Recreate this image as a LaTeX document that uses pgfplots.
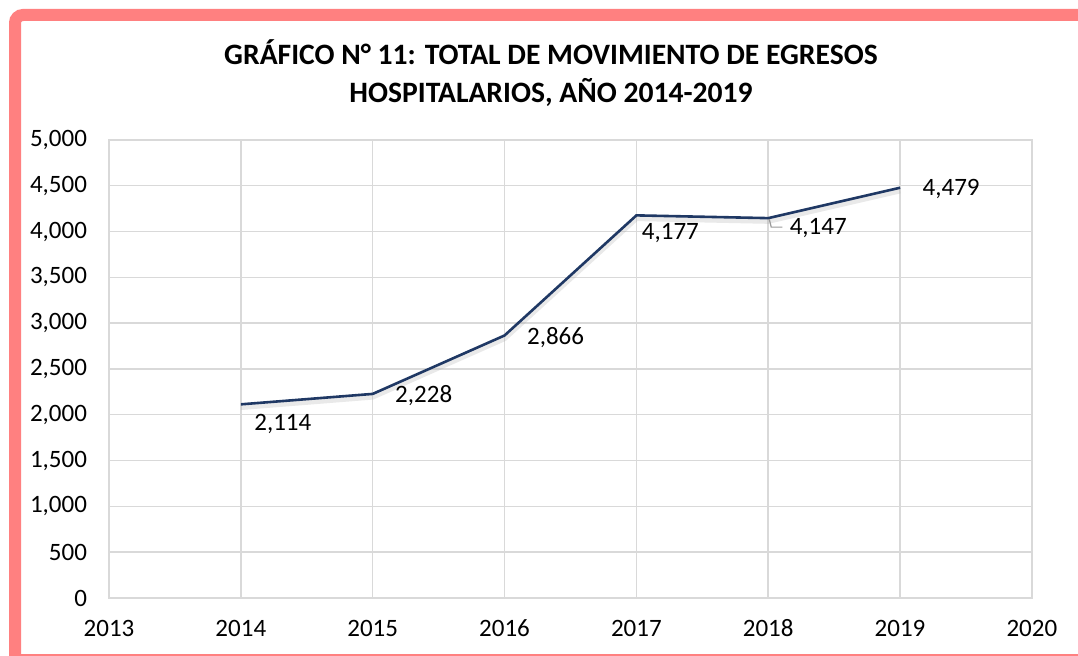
\documentclass[border=0pt]{standalone}
\usepackage{pgfplots}
\pgfplotsset{compat=1.18}
\usepackage{fontspec}
\setmainfont{Carlito}
\definecolor{frame}{RGB}{255,128,128}
\definecolor{navy}{RGB}{31,56,100}
\definecolor{gridc}{RGB}{217,217,217}
\tikzset{lbl/.style={font=\fontsize{12.5}{14}\selectfont}}
\begin{document}
\begin{tikzpicture}
\useasboundingbox (0,0) rectangle (539pt,328pt);
% frame
\draw[frame, line width=6pt, rounded corners=4pt] (539pt,320.5pt) -- (7.5pt,320.5pt) -- (7.5pt,0pt);
\draw[frame, line width=1.2pt] (7.5pt,0.6pt) -- (539pt,0.6pt);
% title
\node[font=\bfseries\fontsize{14.8}{19}\selectfont, align=center] at (275.5pt,291.5pt)
  {GRÁFICO N° 11: TOTAL DE MOVIMIENTO DE EGRESOS\\HOSPITALARIOS, AÑO 2014-2019};
\begin{axis}[
  at={(54.5pt,29pt)}, anchor=south west,
  scale only axis, width=461.5pt, height=229pt,
  xmin=2013, xmax=2020, ymin=0, ymax=5000,
  xtick={2013,...,2020}, ytick={0,500,...,5000},
  xticklabel style={text height=1.6ex, text depth=0.2ex, /pgf/number format/.cd, set thousands separator={}},
  yticklabel style={/pgf/number format/.cd, fixed, set thousands separator={,}},
  /pgf/number format/assume math mode=true,
  ticklabel style={font=\fontsize{12.5}{14}\selectfont},
  xtick style={draw=none}, ytick style={draw=none},
  xticklabel shift=8pt, yticklabel shift=7.5pt,
  grid=major, major grid style={gridc, line width=0.7pt},
  axis line style={gridc, line width=0.7pt},
  clip=false,
]
\addplot[black!35, opacity=0.25, line width=2.5pt, transform canvas={yshift=-1.6pt}] coordinates {
(2014,2114) (2015,2228) (2016,2866) (2017,4177) (2018,4147) (2019,4479)};
\addplot[navy, line width=1.3pt] coordinates {
(2014,2114) (2015,2228) (2016,2866) (2017,4177) (2018,4147) (2019,4479)};
\node[lbl] at ([xshift=21pt,yshift=-10pt]axis cs:2014,2114) {2,114};
\node[lbl] at ([xshift=25.5pt,yshift=-1pt]axis cs:2015,2228) {2,228};
\node[lbl] at ([xshift=25.5pt,yshift=-0.8pt]axis cs:2016,2866) {2,866};
\node[lbl] at ([xshift=17pt,yshift=-9pt]axis cs:2017,4177) {4,177};
\node[lbl] at ([xshift=25pt,yshift=-5pt]axis cs:2018,4147) {4,147};
\node[lbl] at ([xshift=25.5pt,yshift=-0.5pt]axis cs:2019,4479) {4,479};
\draw[black!40, line width=0.6pt] ([xshift=0.5pt,yshift=-0.5pt]axis cs:2018,4147) -- ([xshift=1.5pt,yshift=-4.5pt]axis cs:2018,4147) -- ([xshift=7pt,yshift=-4.5pt]axis cs:2018,4147);
\end{axis}
\end{tikzpicture}
\end{document}
